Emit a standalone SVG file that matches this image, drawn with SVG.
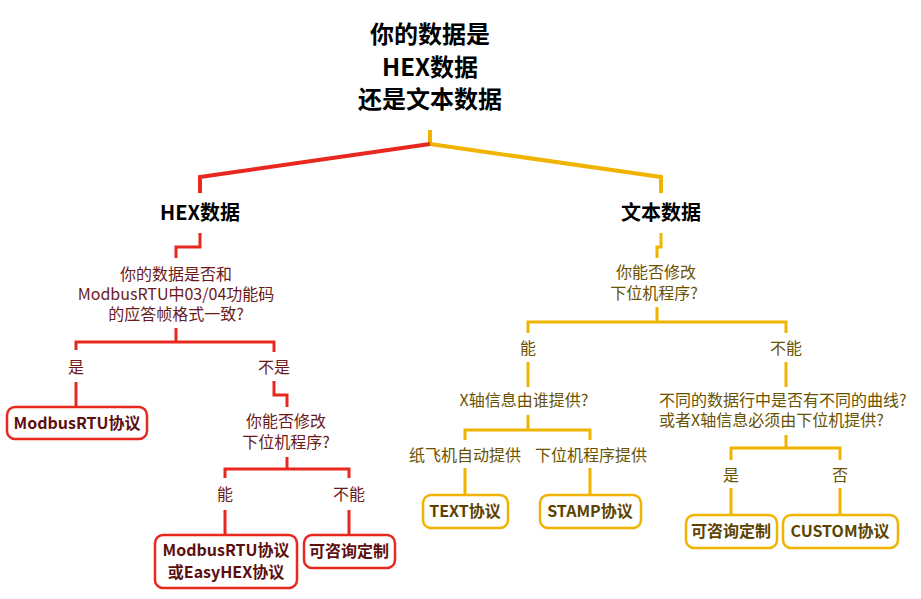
<svg xmlns="http://www.w3.org/2000/svg" width="921" height="599" viewBox="0 0 921 599">
<style>
text{font-family:"Microsoft YaHei","Noto Sans CJK SC","Noto Sans",sans-serif;text-anchor:middle}
.title{font-size:24px;font-weight:bold;fill:#000}
.h2{font-size:20px;font-weight:bold;fill:#000}
.rq{font-size:16px;fill:#6b1a1a}
.yq{font-size:16px;fill:#6b5200}
.rb{font-size:16px;font-weight:bold;fill:#5c0f0f}
.yb{font-size:16px;font-weight:bold;fill:#5c4400}
.rbox{fill:#fff;stroke:#e8281e;stroke-width:2.5}
.ybox{fill:#fff;stroke:#f0b400;stroke-width:2.5}
.rl{fill:none;stroke:#e8281e;stroke-width:3}
.yl{fill:none;stroke:#f0b400;stroke-width:3}
.thick{stroke-width:4}
</style>
<rect width="921" height="599" fill="#fff"/>
<g id="connectors">
<path class="yl thick" d="M430,130 L430,144 L661,177 L661,193"/>
<path class="rl thick" d="M430,144 L200,177 L200,193"/>
<path class="rl" d="M200,233 L200,247 L176,247 L176,258"/>
<path class="rl" d="M176,328 L176,342 M76,350 L76,342 L274,342 L274,352"/>
<path class="rl" d="M76,382 L76,407"/>
<path class="rl" d="M274,381 L274,395 L287,395 L287,407"/>
<path class="rl" d="M287,457 L287,469 M225,478 L225,469 L349,469 L349,478"/>
<path class="rl" d="M225,510 L225,535 M349,510 L349,535"/>
<path class="yl" d="M661,233 L661,247 L657,247 L657,258"/>
<path class="yl" d="M657,307 L657,322 M528,333 L528,322 L786,322 L786,333"/>
<path class="yl" d="M528,362 L528,387"/>
<path class="yl" d="M528,415 L528,430 M465,440 L465,430 L590,430 L590,440"/>
<path class="yl" d="M465,468 L465,495 M590,468 L590,495"/>
<path class="yl" d="M786,362 L786,387"/>
<path class="yl" d="M786,435 L786,448 M731,460 L731,448 L840,448 L840,460"/>
<path class="yl" d="M731,488 L731,515 M840,488 L840,515"/>
</g>
<g id="root">
<text class="title" x="430" y="43">你的数据是</text>
<text class="title" x="430" y="76">HEX数据</text>
<text class="title" x="430" y="108">还是文本数据</text>
</g>
<g id="hex"><text class="h2" x="200" y="220">HEX数据</text></g>
<g id="text-data"><text class="h2" x="661" y="220">文本数据</text></g>
<g id="q-hex">
<text class="rq" x="176" y="280">你的数据是否和</text>
<text class="rq" x="176" y="300">ModbusRTU中03/04功能码</text>
<text class="rq" x="176" y="320">的应答帧格式一致?</text>
</g>
<g id="lbl-yes1"><text class="rq" x="76" y="373">是</text></g>
<g id="lbl-no1"><text class="rq" x="274" y="373">不是</text></g>
<g id="modbus">
<rect class="rbox" x="7" y="407" width="140" height="32" rx="8"/>
<text class="rb" x="77" y="429">ModbusRTU协议</text>
</g>
<g id="q-hex2">
<text class="rq" x="286" y="427">你能否修改</text>
<text class="rq" x="286" y="448">下位机程序?</text>
</g>
<g id="lbl-can1"><text class="rq" x="225" y="500">能</text></g>
<g id="lbl-cannot1"><text class="rq" x="349" y="500">不能</text></g>
<g id="modbus-easyhex">
<rect class="rbox" x="155" y="535" width="142" height="53" rx="8"/>
<text class="rb" x="226" y="556">ModbusRTU协议</text>
<text class="rb" x="226" y="578">或EasyHEX协议</text>
</g>
<g id="custom-red">
<rect class="rbox" x="304" y="535" width="91" height="33" rx="8"/>
<text class="rb" x="349" y="557">可咨询定制</text>
</g>
<g id="q-text">
<text class="yq" x="656" y="278">你能否修改</text>
<text class="yq" x="654" y="299">下位机程序?</text>
</g>
<g id="lbl-can2"><text class="yq" x="528" y="354">能</text></g>
<g id="lbl-cannot2"><text class="yq" x="786" y="354">不能</text></g>
<g id="q-xaxis"><text class="yq" x="524" y="406">X轴信息由谁提供?</text></g>
<g id="lbl-plane"><text class="yq" x="465" y="461">纸飞机自动提供</text></g>
<g id="lbl-lower"><text class="yq" x="591" y="461">下位机程序提供</text></g>
<g id="text-proto">
<rect class="ybox" x="423" y="495" width="85" height="33" rx="8"/>
<text class="yb" x="465" y="517">TEXT协议</text>
</g>
<g id="stamp-proto">
<rect class="ybox" x="540" y="495" width="101" height="33" rx="8"/>
<text class="yb" x="590" y="517">STAMP协议</text>
</g>
<g id="q-curve">
<text class="yq" x="659" y="406" style="text-anchor:start">不同的数据行中是否有不同的曲线?</text>
<text class="yq" x="659" y="426" style="text-anchor:start">或者X轴信息必须由下位机提供?</text>
</g>
<g id="lbl-yes2"><text class="yq" x="731" y="481">是</text></g>
<g id="lbl-no2"><text class="yq" x="840" y="481">否</text></g>
<g id="custom-yellow">
<rect class="ybox" x="686" y="515" width="91" height="33" rx="8"/>
<text class="yb" x="731" y="537">可咨询定制</text>
</g>
<g id="custom-proto">
<rect class="ybox" x="783" y="515" width="115" height="33" rx="8"/>
<text class="yb" x="840" y="537">CUSTOM协议</text>
</g>
</svg>
